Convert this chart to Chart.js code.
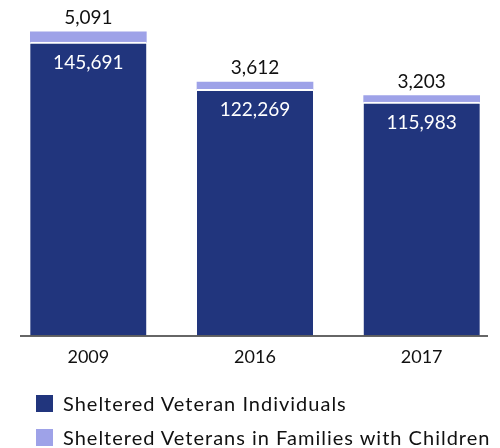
<!DOCTYPE html>
<html>
<head>
<meta charset="utf-8">
<script src="https://cdn.jsdelivr.net/npm/chart.js@4"></script>
<style>
  body { margin: 0; background: #fff; }
  .wrap { position: relative; width: 500px; height: 448px; overflow: hidden; }
  #legend { position: absolute; left: 36px; top: 386px; font-family: Lato, sans-serif; font-size: 20px; letter-spacing: 1px; color: #111; }
  #legend div { display: flex; align-items: center; height: 34px; white-space: nowrap; }
  #legend span.box { width: 17px; height: 17px; margin-right: 10px; display: inline-block; }
</style>
</head>
<body>
<div class="wrap">
  <canvas id="myChart" width="505" height="448"></canvas>
  <div id="legend"></div>
</div>
<script>
const years = ["2009", "2016", "2017"];
const individuals = [145691, 122269, 115983];
const families = [5091, 3612, 3203];
const seriesNames = ["Sheltered Veteran Individuals", "Sheltered Veterans in Families with Children"];
const seriesColors = ["#21357d", "#9ea2e8"];

const fmt = (v) => v.toLocaleString("en-US");

// value labels: white inside the dark bar, black above the light one
const valueLabels = {
  id: "valueLabels",
  afterDatasetsDraw(chart) {
    const ctx = chart.ctx;
    ctx.save();
    ctx.font = "19px Lato, sans-serif";
    ctx.textAlign = "center";
    ctx.textBaseline = "middle";
    chart.data.datasets.forEach((ds, i) => {
      chart.getDatasetMeta(i).data.forEach((bar, j) => {
        if (i === 0) {
          ctx.fillStyle = "#fff";
          ctx.fillText(fmt(ds.data[j]), bar.x, bar.y + 21);
        } else {
          ctx.fillStyle = "#111";
          ctx.fillText(fmt(ds.data[j]), bar.x, bar.y - 14);
        }
      });
    });
    ctx.restore();
  }
};

// baseline under the bars
const baseLine = {
  id: "baseLine",
  afterDatasetsDraw(chart) {
    const { ctx, chartArea } = chart;
    ctx.save();
    ctx.strokeStyle = "#333";
    ctx.lineWidth = 1.5;
    ctx.beginPath();
    ctx.moveTo(chartArea.left + 15, chartArea.bottom + 0.5);
    ctx.lineTo(chartArea.right - 17, chartArea.bottom + 0.5);
    ctx.stroke();
    ctx.restore();
  }
};

const chart = new Chart(document.getElementById("myChart"), {
  type: "bar",
  data: {
    labels: years,
    datasets: [
      {
        label: seriesNames[0],
        data: individuals,
        backgroundColor: seriesColors[0],
        borderColor: "#fff",
        borderWidth: { top: 2, left: 0, right: 0, bottom: 0 },
        borderSkipped: false,
        barThickness: 116,
      },
      {
        label: seriesNames[1],
        data: families,
        backgroundColor: seriesColors[1],
        borderWidth: 0,
        barThickness: 116,
      },
    ],
  },
  options: {
    responsive: false,
    animation: false,
    layout: { padding: { left: 5, right: 0, top: 19, bottom: 69 } },
    plugins: {
      legend: { display: false },
      tooltip: { enabled: false },
    },
    scales: {
      x: {
        stacked: true,
        grid: { display: false, drawTicks: false },
        border: { display: false },
        ticks: { font: { family: "Lato", size: 18 }, color: "#111", padding: 11 },
      },
      y: {
        stacked: true,
        display: false,
        min: 0,
        max: 157200,
      },
    },
  },
  plugins: [valueLabels, baseLine],
});

const legend = document.getElementById("legend");
chart.data.datasets.forEach((ds) => {
  const row = document.createElement("div");
  const box = document.createElement("span");
  box.className = "box";
  box.style.background = ds.backgroundColor;
  row.appendChild(box);
  row.appendChild(document.createTextNode(ds.label));
  legend.appendChild(row);
});
</script>
</body>
</html>
